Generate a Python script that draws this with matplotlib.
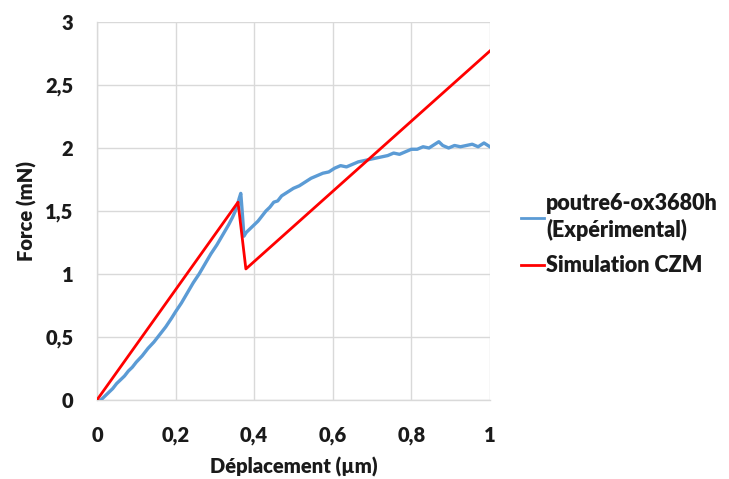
import matplotlib
matplotlib.use("Agg")
import matplotlib.pyplot as plt
from matplotlib.ticker import FixedLocator, FixedFormatter

plt.rcParams['font.family'] = ['Lato', 'DejaVu Sans']

exp_x = [0.010, 0.020, 0.030, 0.040, 0.050, 0.060, 0.070, 0.080, 0.090, 0.100,
         0.115, 0.130, 0.145, 0.160, 0.175, 0.190, 0.200, 0.215, 0.230, 0.245,
         0.260, 0.275, 0.290, 0.305, 0.320, 0.335, 0.345, 0.355, 0.362, 0.366,
         0.370, 0.374, 0.380, 0.390, 0.400, 0.410, 0.420, 0.430, 0.440, 0.450,
         0.460, 0.470, 0.480, 0.490, 0.500, 0.515, 0.530, 0.545, 0.560, 0.575,
         0.590, 0.605, 0.620, 0.635, 0.650, 0.665, 0.680, 0.695, 0.710, 0.725,
         0.740, 0.755, 0.770, 0.785, 0.800, 0.815, 0.830, 0.845, 0.860, 0.870,
         0.880, 0.895, 0.910, 0.925, 0.940, 0.955, 0.970, 0.985, 0.995, 1.000]
exp_y = [0.00, 0.03, 0.06, 0.09, 0.13, 0.16, 0.19, 0.23, 0.26, 0.30,
         0.35, 0.41, 0.46, 0.52, 0.58, 0.65, 0.70, 0.77, 0.85, 0.93,
         1.00, 1.08, 1.16, 1.23, 1.31, 1.39, 1.45, 1.52, 1.60, 1.64,
         1.48, 1.30, 1.33, 1.36, 1.39, 1.42, 1.46, 1.50, 1.53, 1.57,
         1.58, 1.62, 1.64, 1.66, 1.68, 1.70, 1.73, 1.76, 1.78, 1.80,
         1.81, 1.84, 1.86, 1.85, 1.87, 1.89, 1.90, 1.91, 1.92, 1.93,
         1.94, 1.96, 1.95, 1.97, 1.99, 1.99, 2.01, 2.00, 2.03, 2.05,
         2.02, 2.00, 2.02, 2.01, 2.02, 2.03, 2.01, 2.04, 2.02, 2.01]

# Simulation CZM
sim_x = [0.0, 0.359, 0.379, 1.0]
sim_y = [0.0, 1.57, 1.04, 2.77]

x_ticks = [0, 0.2, 0.4, 0.6, 0.8, 1.0]
x_labels = ['0', '0,2', '0,4', '0,6', '0,8', '1']
y_ticks = [0, 0.5, 1.0, 1.5, 2.0, 2.5, 3.0]
y_labels = ['0', '0,5', '1', '1,5', '2', '2,5', '3']

fig = plt.figure(figsize=(7.29, 4.79), dpi=100)
ax = fig.add_axes([0.133, 0.165, 0.539, 0.789])

ax.plot(exp_x, exp_y, color='#5b9bd5', lw=2.4, label='poutre6-ox3680h\n(Expérimental)', zorder=3)
ax.plot(sim_x, sim_y, color='#ff0000', lw=2.0, label='Simulation CZM', zorder=4)

ax.set_xlim(0, 1)
ax.set_ylim(0, 3)
ax.xaxis.set_major_locator(FixedLocator(x_ticks))
ax.xaxis.set_major_formatter(FixedFormatter(x_labels))
ax.yaxis.set_major_locator(FixedLocator(y_ticks))
ax.yaxis.set_major_formatter(FixedFormatter(y_labels))
ax.grid(True, color='#d9d9d9', lw=1.0)
ax.set_axisbelow(True)
for s in ['top', 'right']:
    ax.spines[s].set_visible(False)
for s in ['left', 'bottom']:
    ax.spines[s].set_color('#d9d9d9')
    ax.spines[s].set_linewidth(1.0)
ax.tick_params(axis='x', length=0, labelsize=14.5, pad=19)
ax.tick_params(axis='y', length=0, labelsize=14.5, pad=17)
for lab in ax.get_xticklabels() + ax.get_yticklabels():
    lab.set_fontweight('heavy')
    lab.set_color('#1a1a1a')

ax.set_xlabel('Déplacement (µm)', fontsize=14.5, fontweight='heavy', color='#1a1a1a', labelpad=8)
ax.set_ylabel('Force (mN)', fontsize=14.5, fontweight='heavy', color='#1a1a1a', labelpad=6)

leg = fig.legend(loc='center left', bbox_to_anchor=(0.688, 0.51), frameon=False,
                 handlelength=1.05, handletextpad=0.12, labelspacing=0.65,
                 prop={'size': 15.5, 'weight': 'heavy'})
for t in leg.get_texts():
    t.set_color('#1a1a1a')
    t.set_linespacing(1.3)
for h in leg.get_lines():
    h.set_linewidth(2.0)

fig.savefig('out.png', dpi=100)
